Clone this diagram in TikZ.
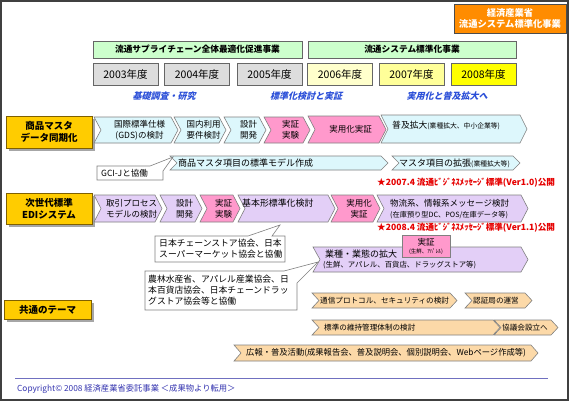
\documentclass[tikz,border=0pt]{standalone}
\usepackage{fontspec}
\setmainfont{Noto Sans CJK JP}
\newfontfamily\jpsl{Noto Sans CJK JP}[FakeSlant=0.25]
\usetikzlibrary{shadows}
\definecolor{metiorange}{HTML}{FF8C00}
\definecolor{hdrgreen}{HTML}{CCFFCC}
\definecolor{yrgrey}{HTML}{DDDDDD}
\definecolor{yrsix}{HTML}{FFFFCC}
\definecolor{yrseven}{HTML}{FFFF99}
\definecolor{yreight}{HTML}{FFFF00}
\definecolor{goldf}{HTML}{FFCC00}
\definecolor{goldline}{HTML}{7F6000}
\definecolor{cyanf}{HTML}{DDF7FC}
\definecolor{pinkf}{HTML}{FF99CC}
\definecolor{lilacf}{HTML}{E3CFF7}
\definecolor{tanf}{HTML}{FCD9A8}
\definecolor{chevgray}{HTML}{808080}
\definecolor{phaseblue}{HTML}{2B4FD8}
\definecolor{redtxt}{HTML}{E60000}
\definecolor{rulecol}{HTML}{7070C0}
\definecolor{copyblue}{HTML}{3535B0}
\definecolor{framegray}{HTML}{404040}
\newcommand{\chev}[6]{%
  \path[fill=#6, draw=chevgray, line width=0.6pt] (#2,#4) -- ({#3-7},#4) -- (#3,{(#4+#5)/2}) -- ({#3-7},#5) -- (#2,#5) -- ({#2+7},{(#4+#5)/2}) -- cycle;
  \coordinate (#1) at ({(#2+#3)/2+3.5},{(#4+#5)/2});
}
\newcommand{\smallp}[1]{{\fontsize{6.8}{8}\selectfont #1}}
\begin{document}
\begin{tikzpicture}[x=1pt,y=-1pt,
  txt/.style={inner sep=0pt, align=center, font=\fontsize{8.5}{11}\selectfont},
  ltxt/.style={inner sep=0pt, align=left, anchor=west, font=\fontsize{8.5}{11}\selectfont},
  hdr/.style={draw=black!60, line width=0.6pt, inner sep=0pt, minimum height=17pt, fill=hdrgreen, font=\bfseries\fontsize{8.7}{10}\selectfont},
  yearbox/.style={draw=black!60, line width=0.6pt, inner sep=0pt, minimum height=22pt, minimum width=65pt, font=\fontsize{10.5}{12}\selectfont},
  phase/.style={text=phaseblue, font=\jpsl\bfseries\fontsize{9}{11}\selectfont, inner sep=0pt},
  rowlab/.style={draw=goldline, line width=0.8pt, fill=goldf, inner sep=0pt, minimum width=86pt, align=center, font=\bfseries\fontsize{9.5}{12}\selectfont, drop shadow={shadow xshift=3pt, shadow yshift=-3pt, fill=black!35, opacity=1}},
  callout/.style={fill=white, draw=chevgray, line width=0.6pt},
  redlabel/.style={text=redtxt, inner sep=0pt, anchor=west, font=\bfseries\fontsize{8.6}{10}\selectfont}
]
\useasboundingbox (0,0) rectangle (570,402);
\fill[white] (0,0) rectangle (570,402);
\draw[framegray, line width=1.5pt] (1,1) rectangle (568,400);

% header
\node[draw=black!70, line width=0.8pt, fill=metiorange, text=white, inner sep=0pt, minimum width=112pt, minimum height=29pt, align=center, font=\bfseries\fontsize{9.3}{11.5}\selectfont] (meti) at (510,18.5) {経済産業省\\流通システム標準化事業};
\node[hdr, minimum width=209pt] (prog1) at (197.5,49.5) {流通サプライチェーン全体最適化促進事業};
\node[hdr, minimum width=208pt] (prog2) at (412,49.5) {流通システム標準化事業};
\node[yearbox, fill=yrgrey] (y03) at (125.5,74) {2003年度};
\node[yearbox, fill=yrgrey] (y04) at (197,74) {2004年度};
\node[yearbox, fill=yrgrey] (y05) at (269.5,74) {2005年度};
\node[yearbox, fill=yrsix] (y06) at (340,74) {2006年度};
\node[yearbox, fill=yrseven] (y07) at (411.5,74) {2007年度};
\node[yearbox, fill=yreight] (y08) at (483.5,74) {2008年度};
\node[phase] (ph1) at (164,96) {基礎調査・研究};
\node[phase] (ph2) at (306,96) {標準化検討と実証};
\node[phase] (ph3) at (447,96) {実用化と普及拡大へ};

% row labels
\node[rowlab, minimum height=32pt] (lab1) at (49,132) {商品マスタ\\データ同期化};
\node[rowlab, minimum height=31pt] (lab2) at (49,208.5) {次世代標準\\EDIシステム};
\node[rowlab, minimum width=87pt, minimum height=19pt] (lab3) at (47.5,309.5) {共通のテーマ};

% row 1
\chev{a1}{94}{178}{117}{143}{cyanf}
\chev{a2}{174}{226}{117}{143}{cyanf}
\chev{a3}{224}{266}{117}{143}{cyanf}
\chev{a4}{264}{310}{117}{143}{pinkf}
\chev{a5}{308}{386}{116}{143}{pinkf}
\chev{a6}{381}{527}{115}{143}{cyanf}
\node[txt] (ta1) at (a1) {国際標準仕様\\(GDS)の検討};
\node[txt] (ta2) at (a2) {国内利用\\要件検討};
\node[txt] (ta3) at (a3) {設計\\開発};
\node[txt] (ta4) at (a4) {実証\\実験};
\node[txt] (ta5) at (a5) {実用化実証};
\node[ltxt, font=\fontsize{8.8}{11}\selectfont] (ta6) at (392,125) {普及拡大\smallp{(業種拡大、中小企業等)}};

% row 2
\chev{b1}{170}{388}{156}{170}{cyanf}
\chev{b2}{392}{520}{156}{170}{cyanf}
\node[ltxt, font=\fontsize{9}{11}\selectfont] (tb1) at (178,163) {商品マスタ項目の標準モデル作成};
\node[ltxt, font=\fontsize{9}{11}\selectfont] (tb2) at (399,163) {マスタ項目の拡張\smallp{(業種拡大等)}};
\path[callout] (97,166) -- (150,166) -- (173,157) -- (163,171) -- (163,180) -- (97,180) -- cycle;
\node[ltxt] (gcij) at (101,173) {GCI-Jと協働};

\node[redlabel] (std1) at (377,183) {★2007.4 流通ﾋﾞｼﾞﾈｽﾒｯｾｰｼﾞ標準(Ver1.0)公開};

% row 3
\chev{c1}{94}{162}{195}{222}{lilacf}
\chev{c2}{160}{202}{195}{222}{lilacf}
\chev{c3}{200}{240}{195}{222}{pinkf}
\chev{c4}{238}{335}{195}{222}{lilacf}
\chev{c5}{331}{380}{195}{222}{pinkf}
\chev{c6}{377}{528}{195}{222}{lilacf}
\node[txt] (tc1) at (c1) {取引プロセス\\モデルの検討};
\node[txt] (tc2) at (c2) {設計\\開発};
\node[txt] (tc3) at (c3) {実証\\実験};
\node[ltxt, font=\fontsize{8.9}{11}\selectfont] (tc4) at (242,203) {基本形標準化検討};
\node[txt] (tc5) at (c5) {実用化\\実証};
\node[ltxt] (tc6) at (390,203) {物流系、情報系メッセージ検討};
\node[ltxt] (tc6b) at (390,215) {{\fontsize{7.2}{8}\selectfont (在庫預り型DC、POS/在庫データ等)}};

\node[redlabel] (std2) at (377,228) {★2008.4 流通ﾋﾞｼﾞﾈｽﾒｯｾｰｼﾞ標準(Ver1.1)公開};

% callouts
\path[callout] (155,236) -- (248,236) -- (280,225) -- (272,236) -- (285,236) -- (285,262) -- (155,262) -- cycle;
\node[ltxt, font=\fontsize{8.8}{11}\selectfont] (jcsa) at (159,249) {日本チェーンストア協会、日本\\スーパーマーケット協会と協働};

% row 4
\chev{d1}{313}{528}{247}{272}{lilacf}
\node[ltxt, font=\fontsize{9}{10}\selectfont] (td1) at (325,254) {業種・業態の拡大};
\node[ltxt, font=\fontsize{7.4}{8}\selectfont] (td1b) at (323,265.5) {(生鮮、アパレル、百貨店、ドラッグストア等)};
\node[draw=chevgray, line width=0.6pt, fill=pinkf, minimum width=48pt, minimum height=22pt, inner sep=0pt, align=center, font=\fontsize{8.5}{9}\selectfont] (pilot) at (426,246) {実証\\[-1pt]{\fontsize{5.5}{6}\selectfont (生鮮、ｱﾊﾟﾚﾙ)}};

\path[callout] (145,271) -- (284,271) -- (318,262) -- (297,283) -- (297,310) -- (145,310) -- cycle;
\node[ltxt, font=\fontsize{8.8}{11}\selectfont] (maff) at (148,290.5) {農林水産省、アパレル産業協会、日\\本百貨店協会、日本チェーンドラッ\\グストア協会等と協働};

% common themes
\chev{e1}{312}{457}{293}{308}{tanf}
\chev{e2}{465}{532}{293}{308}{tanf}
\chev{e3}{312}{500}{320}{335}{tanf}
\chev{e4}{494}{558}{320}{335}{tanf}
\chev{e5}{234}{538}{345}{361}{tanf}
\node[ltxt, font=\fontsize{7.6}{9}\selectfont] (te1) at (320,300.5) {通信プロトコル、セキュリティの検討};
\node[ltxt, font=\fontsize{7.6}{9}\selectfont] (te2) at (473,300.5) {認証局の運営};
\node[ltxt, font=\fontsize{7.6}{9}\selectfont] (te3) at (324,327.5) {標準の維持管理体制の検討};
\node[ltxt, font=\fontsize{7.6}{9}\selectfont] (te4) at (502,327.5) {協議会設立へ};
\node[ltxt, font=\fontsize{8.3}{9}\selectfont] (te5) at (246,353) {広報・普及活動(成果報告会、普及説明会、個別説明会、Webページ作成等)};

% footer
\draw[rulecol, line width=1pt] (15,378) -- (548,378);
\node[anchor=west, text=copyblue, inner sep=0pt, font=\fontsize{8.3}{9}\selectfont] (copy) at (17,389) {Copyright© 2008 経済産業省委託事業 ＜成果物より転用＞};
\end{tikzpicture}
\end{document}
